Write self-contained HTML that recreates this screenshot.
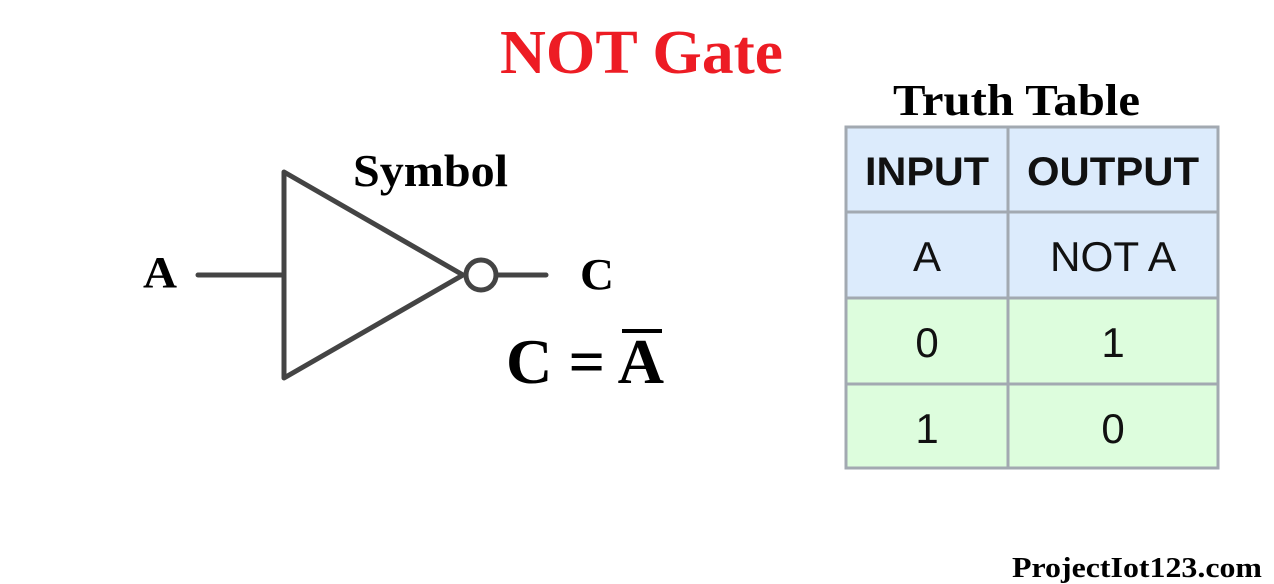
<!DOCTYPE html>
<html><head><meta charset="utf-8"><style>
html,body{margin:0;padding:0;background:#fff;width:1274px;height:584px;overflow:hidden}
svg{display:block}
.serif{font-family:"Liberation Serif",serif;font-weight:bold}
.sans{font-family:"Liberation Sans",sans-serif}
</style></head><body>
<svg width="1274" height="584" viewBox="0 0 1274 584">
<text class="serif" x="500" y="73" font-size="62" fill="#ed1c24" textLength="283" lengthAdjust="spacingAndGlyphs">NOT Gate</text>
<text class="serif" x="353" y="186" font-size="46" fill="#000" textLength="155" lengthAdjust="spacingAndGlyphs">Symbol</text>
<g stroke="#444" stroke-width="5" fill="none" stroke-linecap="round" stroke-linejoin="round">
<line x1="198" y1="275" x2="284" y2="275"/>
<polygon points="284,172 284,378 463,275"/>
<circle cx="481" cy="275" r="15"/>
<line x1="497" y1="275" x2="546" y2="275"/>
</g>
<text class="serif" x="143" y="287" font-size="44" textLength="34" lengthAdjust="spacingAndGlyphs">A</text>
<text class="serif" x="580" y="289" font-size="44" textLength="34" lengthAdjust="spacingAndGlyphs">C</text>
<text class="serif" x="506" y="383" font-size="64" textLength="158" lengthAdjust="spacingAndGlyphs">C = A</text>
<line x1="622" y1="331" x2="662" y2="331" stroke="#000" stroke-width="4"/>
<text class="serif" x="893" y="115" font-size="44" textLength="247" lengthAdjust="spacingAndGlyphs">Truth Table</text>
<g>
<rect x="845" y="126" width="374" height="172" fill="#dcebfc"/>
<rect x="845" y="298" width="374" height="171" fill="#ddfddd"/>
<g stroke="#a2a9b1" stroke-width="3" fill="none">
<rect x="846" y="127" width="372" height="341"/>
<line x1="1008" y1="127" x2="1008" y2="468"/>
<line x1="846" y1="212" x2="1218" y2="212"/>
<line x1="846" y1="298" x2="1218" y2="298"/>
<line x1="846" y1="384" x2="1218" y2="384"/>
</g>
<g class="sans" fill="#111" text-anchor="middle">
<text x="927" y="185" font-size="40" font-weight="bold" textLength="124" lengthAdjust="spacingAndGlyphs">INPUT</text>
<text x="1113" y="185" font-size="40" font-weight="bold" textLength="172" lengthAdjust="spacingAndGlyphs">OUTPUT</text>
<text x="927" y="271" font-size="42">A</text>
<text x="1113" y="271" font-size="42" textLength="126" lengthAdjust="spacingAndGlyphs">NOT A</text>
<text x="927" y="357" font-size="42">0</text>
<text x="1113" y="357" font-size="42">1</text>
<text x="927" y="443" font-size="42">1</text>
<text x="1113" y="443" font-size="42">0</text>
</g>
</g>
<text class="serif" x="1012" y="577" font-size="28" textLength="250" lengthAdjust="spacingAndGlyphs">ProjectIot123.com</text>
</svg>
</body></html>
